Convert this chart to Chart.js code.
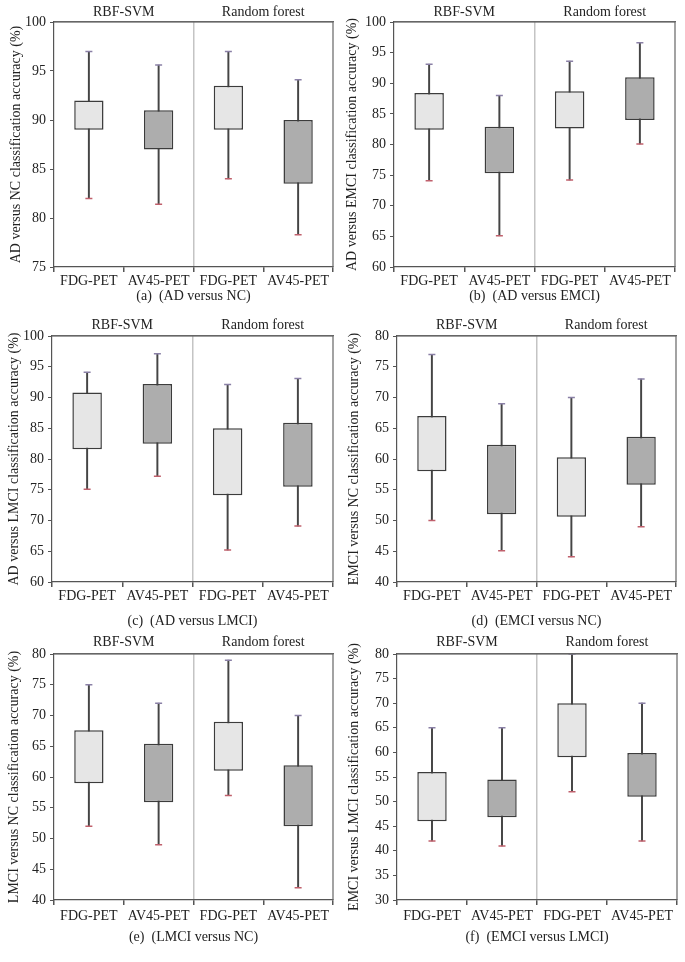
<!DOCTYPE html>
<html>
<head>
<meta charset="utf-8">
<script src="https://cdn.jsdelivr.net/npm/chart.js@4.4.1/dist/chart.umd.min.js"></script>
<style>
  body { margin: 0; background: #fff; }
  #wrap { position: relative; width: 685px; height: 962px; }
  .panel { position: absolute; }
</style>
</head>
<body>
<div id="wrap"></div>
<script>
// categories: two classifiers x two modalities
const categories = ['FDG-PET', 'AV45-PET', 'FDG-PET', 'AV45-PET'];
const groups = ['RBF-SVM', 'Random forest'];

// (a) AD versus NC
const adNcHigh = [97, 95.6, 97, 94.1];
const adNcQ3   = [92, 91, 93.5, 90];
const adNcQ1   = [89, 87, 89, 83.5];
const adNcLow  = [82, 81.4, 84, 78.3];

// (b) AD versus EMCI
const adEmciHigh = [93.1, 88, 93.6, 96.6];
const adEmciQ3   = [88.4, 82.9, 88.7, 91];
const adEmciQ1   = [82.4, 75.3, 82.6, 84];
const adEmciLow  = [74.1, 65.1, 74.2, 80.1];

// (c) AD versus LMCI
const adLmciHigh = [94.1, 97.1, 92.1, 93.1];
const adLmciQ3   = [90.8, 92.2, 85, 85.9];
const adLmciQ1   = [81.6, 82.5, 74.1, 75.5];
const adLmciLow  = [75.1, 77.2, 65.2, 69.1];

// (d) EMCI versus NC
const emciNcHigh = [77, 69, 70, 73];
const emciNcQ3   = [67, 62.3, 60.3, 63.6];
const emciNcQ1   = [58, 51, 50.6, 55.8];
const emciNcLow  = [50, 45.1, 44.1, 49];

// (e) LMCI versus NC
const lmciNcHigh = [75, 72, 79, 70];
const lmciNcQ3   = [67.6, 65.4, 69, 61.9];
const lmciNcQ1   = [59, 55.9, 61, 52];
const lmciNcLow  = [52, 49, 57, 42];

// (f) EMCI versus LMCI
const emciLmciHigh = [65, 65, 80, 70];
const emciLmciQ3   = [56, 54.5, 70, 59.9];
const emciLmciQ1   = [46, 46.8, 59, 51];
const emciLmciLow  = [42, 41, 52, 42];

const yTitles = [
  'AD versus NC classification accuracy (%)',
  'AD versus EMCI classification accuracy (%)',
  'AD versus LMCI classification accuracy (%)',
  'EMCI versus NC classification accuracy (%)',
  'LMCI versus NC classification accuracy (%)',
  'EMCI versus LMCI classification accuracy (%)'
];
const captions = [
  '(a)  (AD versus NC)', '(b)  (AD versus EMCI)', '(c)  (AD versus LMCI)',
  '(d)  (EMCI versus NC)', '(e)  (LMCI versus NC)', '(f)  (EMCI versus LMCI)'
];
const yMins = [75, 60, 60, 40, 40, 30];
const yMaxs = [100, 100, 100, 80, 80, 80];

const series = [
  [adNcHigh, adNcQ3, adNcQ1, adNcLow],
  [adEmciHigh, adEmciQ3, adEmciQ1, adEmciLow],
  [adLmciHigh, adLmciQ3, adLmciQ1, adLmciLow],
  [emciNcHigh, emciNcQ3, emciNcQ1, emciNcLow],
  [lmciNcHigh, lmciNcQ3, lmciNcQ1, lmciNcLow],
  [emciLmciHigh, emciLmciQ3, emciLmciQ1, emciLmciLow]
];

// layout: panel box and plot area in page pixels
const boxes = [
  { x: 0,   y: 0,   w: 342, h: 310, l: 54,  t: 22,  r: 333, b: 267, titleX: 16.7, lab: 0.6, grp: 1.6, cap: 5.6 },
  { x: 342, y: 0,   w: 343, h: 310, l: 394, t: 22,  r: 675, b: 267, titleX: 10.7, lab: 0.6, grp: 1.6, cap: 5.6 },
  { x: 0,   y: 310, w: 342, h: 320, l: 52,  t: 336, r: 333, b: 582, titleX: 14,   lab: 0.6, grp: 2.6, cap: 0.6 },
  { x: 342, y: 310, w: 343, h: 320, l: 397, t: 336, r: 676, b: 582, titleX: 12,   lab: 0.6, grp: 2.6, cap: 0.6 },
  { x: 0,   y: 630, w: 342, h: 332, l: 54,  t: 654, r: 333, b: 900, titleX: 14,   lab: 2.6, grp: 3.6, cap: 16.6 },
  { x: 342, y: 630, w: 343, h: 332, l: 397, t: 654, r: 677, b: 900, titleX: 12,   lab: 2.6, grp: 3.6, cap: 16.6 }
];

Chart.defaults.font.family = '"Liberation Serif", "DejaVu Serif", serif';
Chart.defaults.font.size = 14;
Chart.defaults.color = '#222';

const boxFill = ['#e6e6e6', '#adadad', '#e6e6e6', '#adadad'];

const framePlugin = {
  id: 'frame',
  afterDraw(chart) {
    const { ctx, chartArea: a } = chart;
    ctx.save();
    ctx.strokeStyle = '#666';
    ctx.lineWidth = 1.2;
    ctx.beginPath();
    ctx.moveTo(a.left, a.top);
    ctx.lineTo(a.right, a.top);
    ctx.lineTo(a.right, a.bottom);
    ctx.stroke();
    ctx.restore();
  }
};

const wrap = document.getElementById('wrap');

boxes.forEach((p, i) => {
  const [high, q3, q1, low] = series[i];
  const div = document.createElement('div');
  div.className = 'panel';
  div.style.left = p.x + 'px';
  div.style.top = p.y + 'px';
  div.style.width = p.w + 'px';
  div.style.height = p.h + 'px';
  const canvas = document.createElement('canvas');
  div.appendChild(canvas);
  wrap.appendChild(div);

  new Chart(canvas.getContext('2d'), {
    type: 'bar',
    data: {
      labels: categories,
      datasets: [
        {
          // whiskers
          data: low.map((v, k) => [v, high[k]]),
          backgroundColor: '#444',
          barThickness: 1.3,
          grouped: false,
          order: 3
        },
        {
          // boxes
          data: q1.map((v, k) => [v, q3[k]]),
          backgroundColor: boxFill,
          borderColor: '#3c3c3c',
          borderWidth: 1.5,
          borderSkipped: false,
          barPercentage: 0.42,
          categoryPercentage: 1,
          grouped: false,
          order: 2
        },
        {
          type: 'line',
          data: high,
          showLine: false,
          pointStyle: 'line',
          pointRadius: 3.5,
          pointBorderWidth: 1.5,
          pointBorderColor: '#8a80a6',
          order: 1
        },
        {
          type: 'line',
          data: low,
          showLine: false,
          pointStyle: 'line',
          pointRadius: 3.5,
          pointBorderWidth: 1.5,
          pointBorderColor: '#c0606c',
          order: 1
        }
      ]
    },
    options: {
      responsive: true,
      maintainAspectRatio: false,
      animation: false,
      layout: { padding: { left: 0, top: 0, bottom: 0, right: p.x + p.w - p.r } },
      plugins: { legend: { display: false }, tooltip: { enabled: false } },
      scales: {
        x: {
          offset: true,
          grid: {
            offset: true,
            color: c => c.index === 2 ? '#c4c4c4' : 'rgba(0,0,0,0)',
            lineWidth: 1.5,
            tickColor: '#555',
            tickLength: 5
          },
          border: { color: '#555', width: 1.2 },
          ticks: { autoSkip: false, maxRotation: 0, padding: p.lab, color: '#222' },
          title: { display: true, text: captions[i], font: { size: 14 }, padding: { top: 0, bottom: p.cap } },
          afterFit: s => { s.height = p.y + p.h - p.b; }
        },
        x2: {
          type: 'category',
          labels: groups,
          position: 'top',
          offset: true,
          grid: { display: false, drawTicks: false },
          border: { display: true, color: '#666', width: 1.2 },
          ticks: { padding: p.grp, color: '#222' },
          afterFit: s => { s.height = p.t - p.y; }
        },
        y: {
          min: yMins[i],
          max: yMaxs[i],
          ticks: { stepSize: 5, padding: 4, color: '#222' },
          grid: { drawOnChartArea: false, tickColor: '#555', tickLength: 4 },
          border: { color: '#555', width: 1.2 },
          title: { display: true, text: yTitles[i], font: { size: 14 }, padding: { top: p.titleX - 8.4, bottom: 0 } },
          afterFit: s => { s.width = p.l - p.x; }
        }
      }
    },
    plugins: [framePlugin]
  });
});
</script>
</body>
</html>
